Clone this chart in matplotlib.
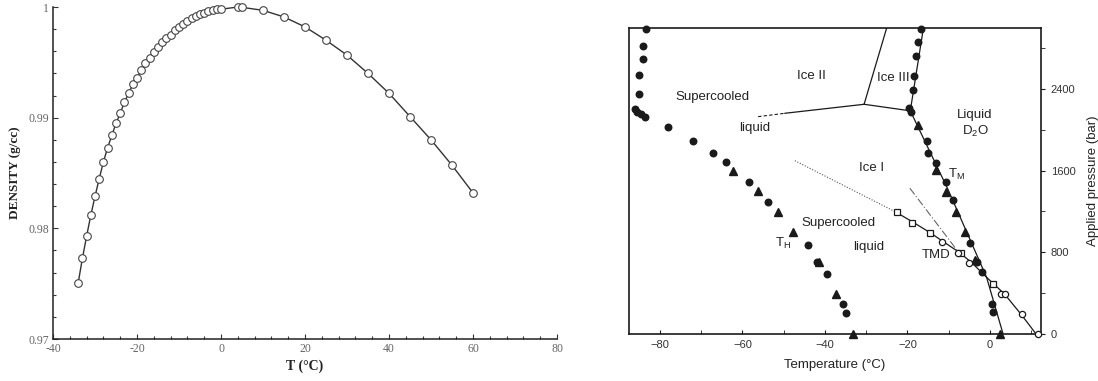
import matplotlib
matplotlib.use("Agg")
import matplotlib.pyplot as plt
from matplotlib.ticker import MultipleLocator, FixedLocator, FixedFormatter

plt.rcParams.update({
    "mathtext.fontset": "custom", "mathtext.rm": "Liberation Sans",
    "mathtext.it": "Liberation Sans", "mathtext.bf": "Liberation Sans:bold",
    "figure.facecolor": "white", "axes.facecolor": "white",
})

# ---- left panel: density of water vs temperature
temp_c = [-34, -33, -32, -31, -30, -29, -28, -27, -26, -25, -24, -23, -22, -21,
          -20, -19, -18, -17, -16, -15, -14, -13, -12, -11, -10, -9, -8, -7,
          -6, -5, -4, -3, -2, -1, 0, 4, 5, 10, 15, 20, 25, 30, 35, 40, 45, 50,
          55, 60]
density = [0.9751, 0.9773, 0.9793, 0.9812, 0.9829, 0.9845, 0.9860, 0.9873,
           0.9884, 0.9895, 0.9904, 0.9914, 0.9922, 0.9930, 0.9936, 0.9943,
           0.9949, 0.9954, 0.9959, 0.9964, 0.9968, 0.9972, 0.9975, 0.9979,
           0.9982, 0.9985, 0.9987, 0.9990, 0.9992, 0.9994, 0.9995, 0.9996,
           0.9997, 0.9998, 0.9998, 1.0000, 0.99997, 0.9997, 0.9991, 0.9982,
           0.9970, 0.99565, 0.9940, 0.9922, 0.9901, 0.9880, 0.9857, 0.9832]
dens_ticks = [0.97, 0.98, 0.99, 1.0]
dens_ticklabels = ["0.97", "0.98", "0.99", "1"]
t_ticks = [-40, -20, 0, 20, 40, 60, 80]
t_ticklabels = ["-40", "-20", "0", "20", "40", "60", "80"]

# ---- right panel: D2O phase diagram (T in degC, P in bar)
ice2_ice3 = ([-30.5, -25.0], [2249, 3000])
ice1_ice2 = ([-49.7, -30.5], [2161, 2249])
ice1_ice2_ext = ([-56.2, -49.7], [2128, 2161])
ice1_ice3 = ([-30.5, -19.3], [2249, 2185])
ice3_liq = ([-19.3, -16.1], [2185, 3000])
melt_T = [-19.3, -10.1, -5.3, -0.8, 3.2]
melt_P = [2185, 1410, 969, 555, 0]
tmd_T = [-23.0, -18.6, -14.5, -11.3, -7.3, -4.4, -0.8, 1.2, 3.6, 7.7, 11.2]
tmd_P = [1198, 1094, 992, 904, 796, 698, 555, 480, 389, 186, 0]
tmd_ext = ([-47.3, -23.0], [1697, 1198])
dashdot_line = ([-19.4, -7.7], [1427, 806])

th_circ_T = [-83.5, -84.0, -84.0, -85.2, -85.2, -86.1, -85.5, -84.7, -83.6,
             -78.1, -71.9, -67.1, -64.0, -58.4, -53.7, -44.0, -41.9, -39.6,
             -35.6, -35.0]
th_circ_P = [2985, 2823, 2693, 2536, 2350, 2203, 2177, 2151, 2125, 2027, 1890,
             1772, 1681, 1485, 1295, 871, 708, 588, 291, 209]
th_tri_T = [-62.2, -56.3, -51.5, -47.8, -41.4, -37.3, -33.1]
th_tri_P = [1596, 1403, 1198, 1002, 708, 389, 0]

tm_circ_T = [-16.6, -17.4, -17.9, -18.4, -18.7, -19.6, -19.1, -15.3, -15.0,
             -13.1, -10.7, -8.9, -4.7, -3.2, -2.0, 0.4, 0.7]
tm_circ_P = [2985, 2856, 2722, 2526, 2389, 2210, 2175, 1893, 1775, 1671, 1491,
             1307, 894, 708, 610, 294, 218]
tm_tri_T = [-17.4, -13.1, -10.7, -8.1, -6.1, -3.6, 2.4]
tm_tri_P = [2047, 1606, 1393, 1198, 1002, 725, 0]

tmd_sq_T = [-22.6, -19.0, -14.5, -6.9, 0.8]
tmd_sq_P = [1192, 1090, 986, 796, 490]
tmd_circ_T = [-11.5, -7.7, -5.0, 2.6, 3.6, 7.7, 11.7]
tmd_circ_P = [898, 796, 692, 392, 392, 193, 0]

p_ticks = [0, 800, 1600, 2400]

fig = plt.figure(figsize=(10.98, 3.81), dpi=100)

# ------------------------------------------------------------- left panel
ax1 = fig.add_axes([0.0483, 0.1102, 0.4590, 0.8714])
ax1.plot(temp_c, density, "-o", color="#333333", lw=1.0, ms=5.5, mfc="white",
         mec="#444444", mew=0.8, clip_on=False)
ax1.set_xlim(-40, 80)
ax1.set_ylim(0.97, 1.0)
for s in ("top", "right"):
    ax1.spines[s].set_visible(False)
for s in ("left", "bottom"):
    ax1.spines[s].set_linewidth(1.1)
    ax1.spines[s].set_color("#222222")
ax1.yaxis.set_major_locator(FixedLocator(dens_ticks))
ax1.yaxis.set_major_formatter(FixedFormatter(dens_ticklabels))
ax1.yaxis.set_minor_locator(MultipleLocator(0.002))
ax1.xaxis.set_major_locator(FixedLocator(t_ticks))
ax1.xaxis.set_major_formatter(FixedFormatter(t_ticklabels))
ax1.xaxis.set_minor_locator(MultipleLocator(4))
ax1.tick_params(which="both", direction="in", color="#333333", width=0.8)
ax1.tick_params(which="major", length=3.5, labelsize=8.5, labelcolor="#666666", pad=3)
ax1.tick_params(which="minor", length=2.5)
for lab in ax1.get_xticklabels() + ax1.get_yticklabels():
    lab.set_fontfamily("Liberation Serif")
ax1.set_ylabel("DENSITY (g/cc)", family="Liberation Serif", fontweight="bold",
               fontsize=9.5, labelpad=5, color="#222222")
ax1.set_xlabel("T (\u00b0C)", family="Liberation Serif", fontweight="bold",
               fontsize=10, labelpad=3, color="#222222")

# ------------------------------------------------------------ right panel
ink = "#1a1a1a"
ax2 = fig.add_axes([0.5729, 0.1234, 0.3752, 0.8042])
ax2.set_xlim(-87.5, 12.4)
ax2.set_ylim(0, 3000)

for seg in (ice2_ice3, ice1_ice2, ice1_ice3, ice3_liq):
    ax2.plot(*seg, color=ink, lw=0.9)
ax2.plot(*ice1_ice2_ext, color=ink, lw=0.8, ls=(0, (3, 2)))
ax2.plot(melt_T, melt_P, color=ink, lw=0.9)
ax2.plot(tmd_T, tmd_P, color=ink, lw=0.9)
ax2.plot(*tmd_ext, color="#555555", lw=0.8, ls=(0, (1, 1.5)))
ax2.plot(*dashdot_line, color="#666666", lw=0.8, ls=(0, (7, 2, 1, 2)))

mk = dict(ls="none", clip_on=False, zorder=4)
ax2.plot(th_circ_T, th_circ_P, "o", color=ink, ms=4.7, **mk)
ax2.plot(th_tri_T, th_tri_P, "^", color=ink, ms=5.2, **mk)
ax2.plot(tm_circ_T, tm_circ_P, "o", color=ink, ms=4.7, **mk)
ax2.plot(tm_tri_T, tm_tri_P, "^", color=ink, ms=5.2, **mk)
ax2.plot(tmd_sq_T, tmd_sq_P, "s", mfc="white", mec=ink, mew=0.9, ms=4, **mk)
ax2.plot(tmd_circ_T, tmd_circ_P, "o", mfc="white", mec=ink, mew=0.9, ms=4.5, **mk)

for s in ax2.spines.values():
    s.set_linewidth(1.2)
    s.set_color(ink)
ax2.xaxis.set_major_locator(MultipleLocator(20))
ax2.xaxis.set_minor_locator(MultipleLocator(10))
ax2.yaxis.set_major_locator(FixedLocator(p_ticks))
ax2.yaxis.set_minor_locator(MultipleLocator(400))
ax2.yaxis.tick_right()
ax2.yaxis.set_label_position("right")
ax2.tick_params(axis="x", which="both", direction="in", length=3, color=ink)
ax2.tick_params(axis="y", which="both", direction="out", length=3, color=ink)
ax2.tick_params(which="major", labelsize=8, labelcolor="#333333", pad=4)
for lab in ax2.get_xticklabels() + ax2.get_yticklabels():
    lab.set_fontfamily("Liberation Sans")
ax2.set_xlabel("Temperature (\u00b0C)", family="Liberation Sans", fontsize=9.5,
               labelpad=7, color="#222222")
ax2.set_ylabel("Applied pressure (bar)", family="Liberation Sans", fontsize=9.5,
               labelpad=8, color="#222222", rotation=90)

labels = [
    ("Ice II", -43.2, 2526), ("Ice III", -23.5, 2507),
    ("Supercooled", -67.2, 2321), ("liquid", -57.0, 2017),
    ("Liquid", -3.6, 2144), ("D$_2$O", -3.6, 1981),
    ("Ice I", -28.7, 1623), ("T$_{\\rm M}$", -8.0, 1560),
    ("Supercooled", -36.8, 1087), ("liquid", -29.3, 852),
    ("T$_{\\rm H}$", -50.1, 890), ("TMD", -13.1, 774),
]
for txt, tx, py in labels:
    ax2.text(tx, py, txt, ha="center", va="center", fontsize=9.5,
             family="Liberation Sans", color="#222222")

fig.savefig("out.png", dpi=100)
